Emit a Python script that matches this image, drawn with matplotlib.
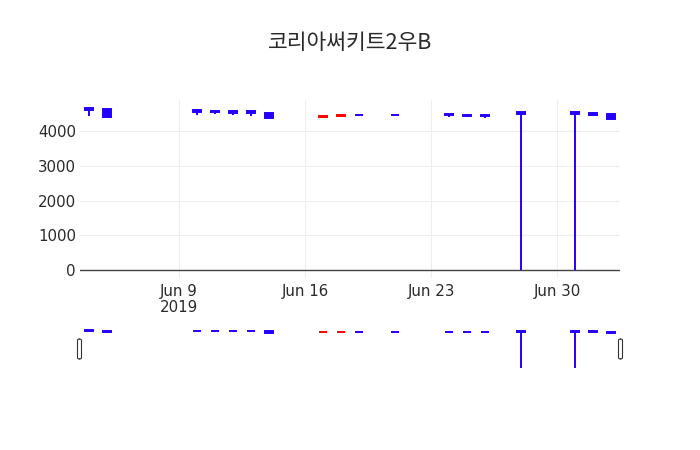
import pandas as pd
import numpy as np
import matplotlib
matplotlib.use("Agg")
import matplotlib.pyplot as plt
import matplotlib.dates as mdates
from matplotlib.patches import FancyBboxPatch

# ===================== 데이터 =====================
dates = ['2019-06-04', '2019-06-05', '2019-06-10', '2019-06-11', '2019-06-12',
         '2019-06-13', '2019-06-14', '2019-06-17', '2019-06-18', '2019-06-19',
         '2019-06-21', '2019-06-24', '2019-06-25', '2019-06-26', '2019-06-28',
         '2019-07-01', '2019-07-02', '2019-07-03']
opens = [4665, 4640, 4630, 4600, 4590, 4590, 4540, 4420, 4450, 4480,
         4480, 4500, 4480, 4470, 4550, 4550, 4530, 4500]
highs = [4665, 4640, 4630, 4600, 4590, 4590, 4540, 4450, 4480, 4480,
         4480, 4500, 4480, 4470, 4550, 4550, 4530, 4500]
lows = [4430, 4420, 4460, 4490, 4470, 4440, 4390, 4420, 4450, 4460,
        4460, 4420, 4400, 4390, 0, 0, 4480, 4350]
closes = [4610, 4420, 4560, 4550, 4540, 4540, 4390, 4450, 4480, 4460,
          4460, 4460, 4440, 4430, 4510, 4510, 4480, 4350]

title = "코리아써키트2우B"
xticks = ['2019-06-09', '2019-06-16', '2019-06-23', '2019-06-30']
xticklabels = ['Jun 9\n2019', 'Jun 16', 'Jun 23', 'Jun 30']
yticks = [0, 1000, 2000, 3000, 4000]

# ===================== 스타일 =====================
UP = '#ff0000'
DOWN = '#2200ff'
TXT = '#2a2a2a'
GRID = '#eeeeee'

W, H = 700, 450
fig = plt.figure(figsize=(7, 4.5), dpi=100)

def px_axes(l, t, r, b):
    return fig.add_axes([l / W, 1 - b / H, (r - l) / W, (b - t) / H])

x = mdates.date2num(pd.to_datetime(dates))
xlim = (x.min() - 0.5, x.max() + 0.5)
colors = [UP if c > o else DOWN for o, c in zip(opens, closes)]

def draw_candles(ax, lw):
    for xi, o, h, l, c, col in zip(x, opens, highs, lows, closes, colors):
        ax.vlines(xi, l, h, color=col, lw=lw, zorder=3)
        lo, hi = min(o, c), max(o, c)
        ax.bar(xi, hi - lo, bottom=lo, width=0.48, color=col, edgecolor=col,
               linewidth=lw, zorder=3)

# ===================== 메인 차트 =====================
ax = px_axes(80, 100, 620, 278)
draw_candles(ax, 1.4)
ax.set_xlim(*xlim)
ax.set_ylim(-235, 4905)
ax.set_yticks(yticks)
ax.set_xticks(mdates.date2num(pd.to_datetime(xticks)))
ax.set_xticklabels(xticklabels, linespacing=1.15)
ax.tick_params(length=0, labelsize=10.8, labelcolor=TXT)
ax.tick_params(axis='x', pad=4)
ax.tick_params(axis='y', pad=3)
ax.grid(True, color=GRID, lw=0.8, zorder=0)
ax.axhline(0, color='#444444', lw=1.0, zorder=2)
for s in ax.spines.values():
    s.set_visible(False)
ax.set_axisbelow(True)

# ===================== 레인지 슬라이더 =====================
ax2 = px_axes(80, 322, 620, 368)
draw_candles(ax2, 1.4)
ax2.set_xlim(*xlim)
ax2.set_ylim(0, 5700)
ax2.axis('off')

for hx in (79.5, 620.5):
    p = FancyBboxPatch(((hx - 2) / W, 1 - 359 / H), 4 / W, 20 / H,
                       boxstyle="round,pad=0,rounding_size=0.003",
                       transform=fig.transFigure, facecolor='white',
                       edgecolor='#333333', linewidth=0.8)
    fig.patches.append(p)

fig.text(0.5, 1 - 43 / H, title, ha='center', va='center', fontsize=15.5,
         color=TXT, family=['Noto Sans CJK KR', 'DejaVu Sans'])

fig.savefig("out.png", dpi=100)
